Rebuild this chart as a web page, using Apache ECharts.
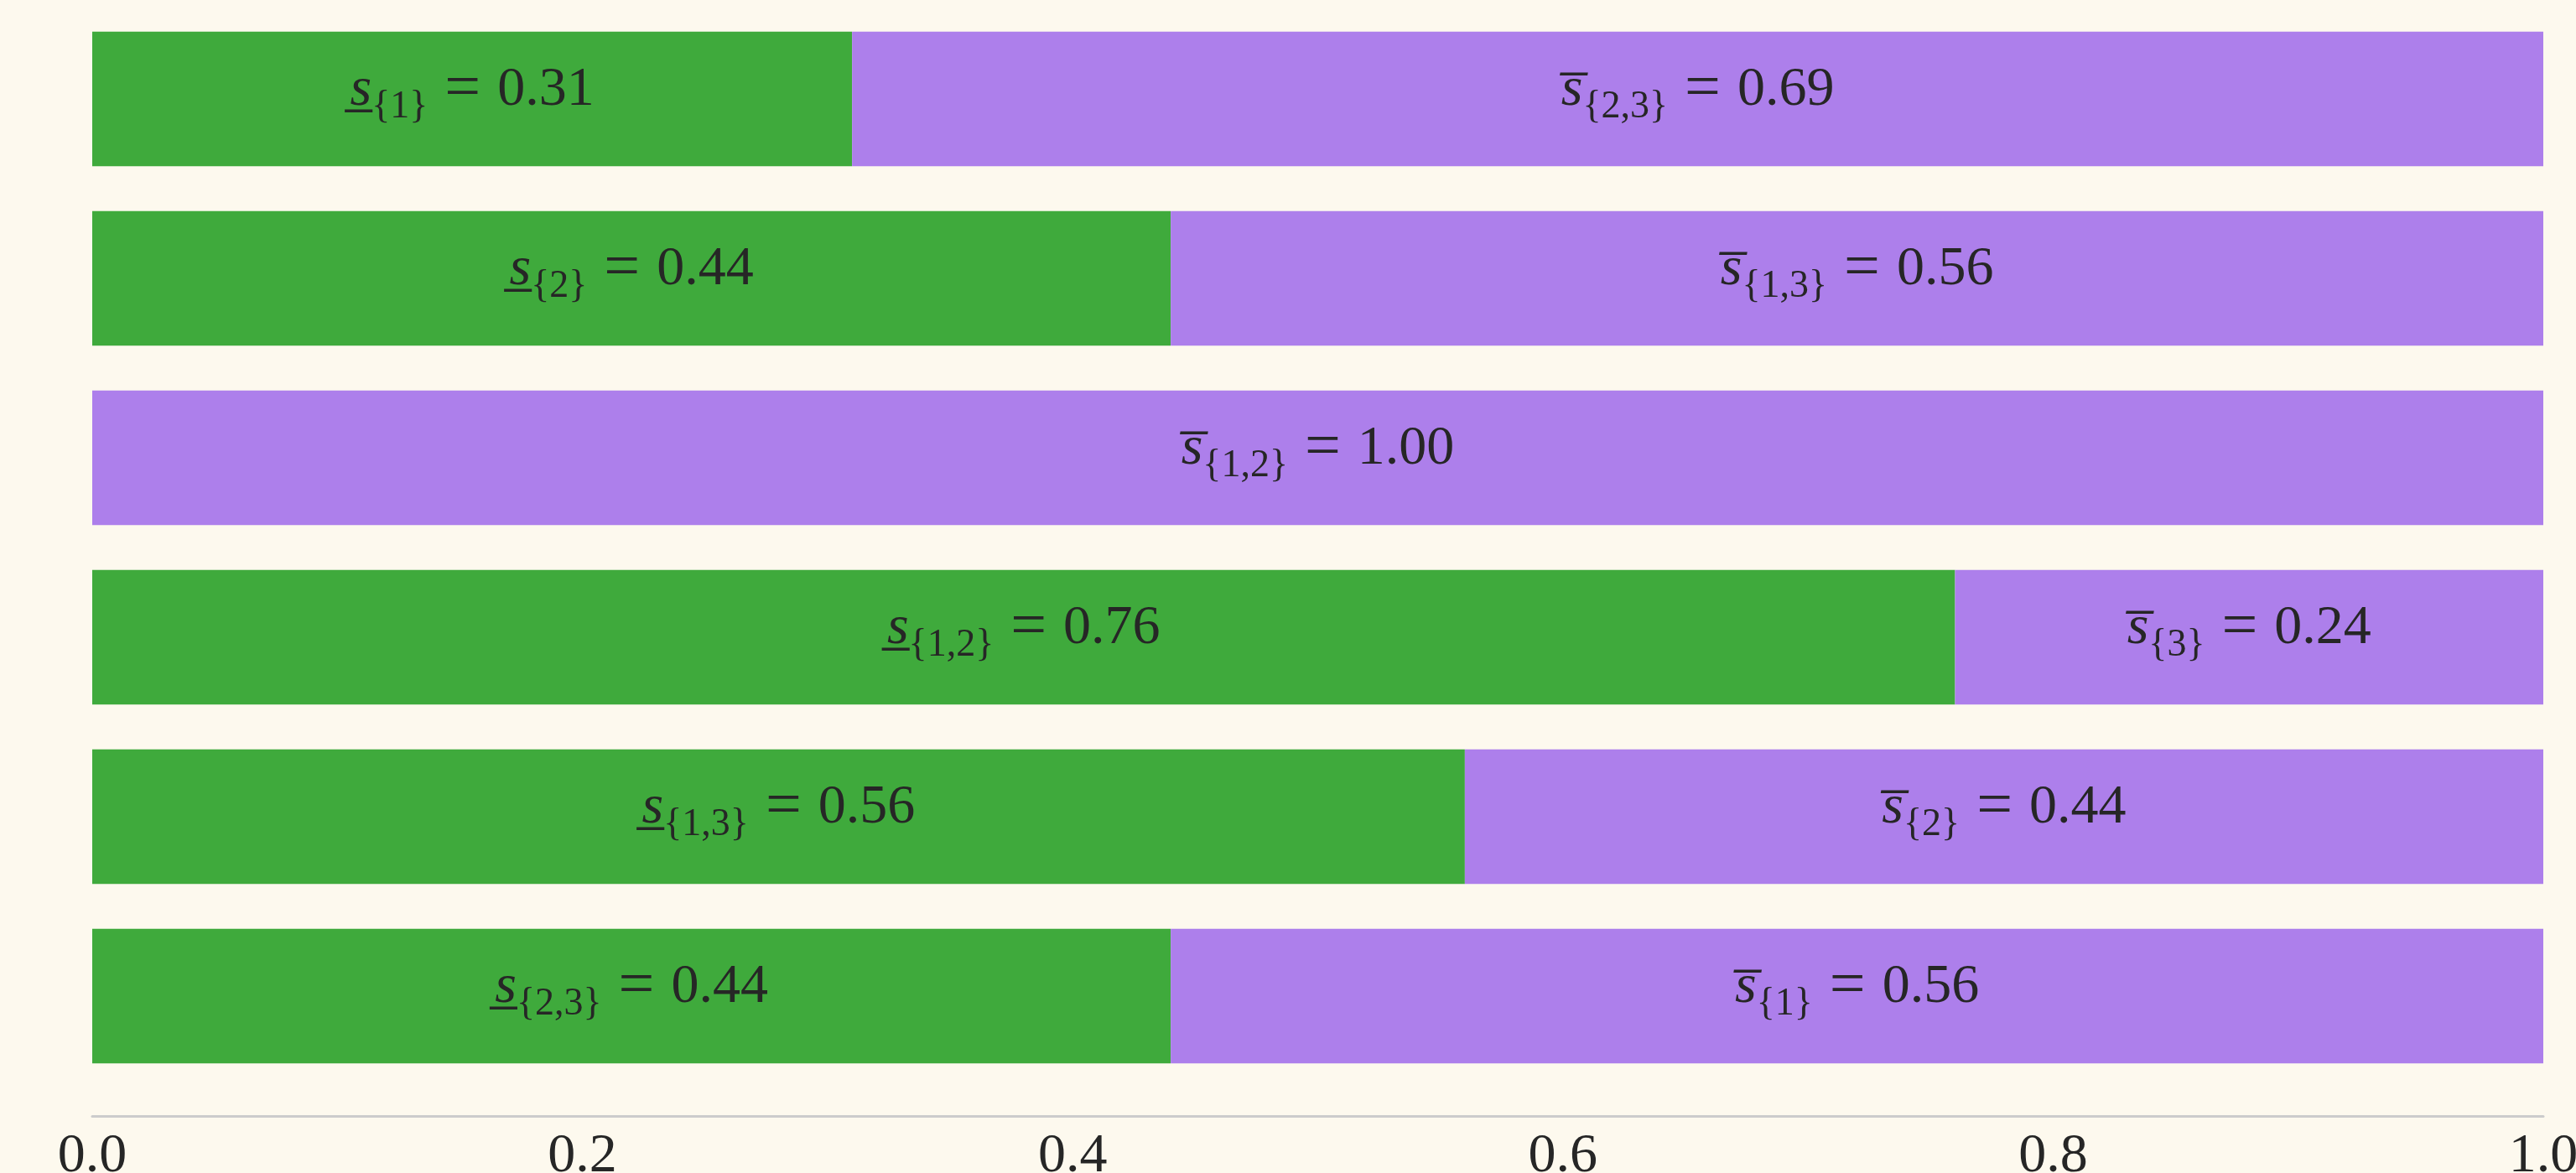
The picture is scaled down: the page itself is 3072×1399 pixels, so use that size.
<!DOCTYPE html>
<html>
<head>
<meta charset="utf-8">
<script src="https://cdn.jsdelivr.net/npm/echarts@6/dist/echarts.min.js"></script>
<style>
  html, body { margin: 0; padding: 0; background: #FDF9EE; }
  #chart { width: 3072px; height: 1399px; }
</style>
</head>
<body>
<div id="chart"></div>
<script>
// Coalitions, top to bottom
const coalitions = ['{1}', '{2}', '{3}', '{1,2}', '{1,3}', '{2,3}'];
// Complement of each coalition (subscript of the upper share label)
const complements = ['{2,3}', '{1,3}', '{1,2}', '{3}', '{2}', '{1}'];
// Lower share of each coalition and upper share of its complement
const lowerValues = [0.31, 0.44, 0.00, 0.76, 0.56, 0.44];
const upperValues = [0.69, 0.56, 1.00, 0.24, 0.44, 0.56];
const xTicks = [0.0, 0.2, 0.4, 0.6, 0.8, 1.0];

const GREEN = '#3FAA3C';
const PURPLE = '#AD7FEB';
const INK = '#262626';
const FONT = '"Liberation Serif", "DejaVu Serif", serif';

// Main-size tokens sit higher (bottom padding) so subscripts hang below them.
const rich = {
  sym: { fontFamily: FONT, fontSize: 66, fontStyle: 'italic', color: INK, lineHeight: 80, padding: [0, 0, 40, 0] },
  sub: { fontFamily: FONT, fontSize: 46, color: INK, lineHeight: 46 },
  eq:  { fontFamily: FONT, fontSize: 76, color: INK, lineHeight: 80, padding: [0, 20, 40, 20] },
  num: { fontFamily: FONT, fontSize: 66, color: INK, lineHeight: 80, padding: [0, 0, 40, 0] }
};

// A rich token cannot contain '}', so the closing brace is left as plain
// text, which takes the label's own (subscript-sized) style.
function mathLabel(mark, set, value) {
  return '{sym|s' + mark + '}{sub|' + set.slice(0, -1) + '}}{eq|=}{num|' + value.toFixed(2) + '}';
}

const baseLabel = {
  show: true,
  position: 'inside',
  offset: [0, 10],
  fontFamily: FONT,
  fontSize: 46,
  lineHeight: 46,
  color: INK,
  rich: rich
};

const chart = echarts.init(document.getElementById('chart'), null, { renderer: 'canvas' });
chart.setOption({
  backgroundColor: '#FDF9EE',
  animation: false,
  grid: { left: 110, right: 39, top: 11, bottom: 104, containLabel: false, outerBoundsMode: 'none' },
  xAxis: {
    type: 'value',
    min: 0,
    max: 1,
    interval: 0.2,
    offset: 36,
    axisLine: { show: true, lineStyle: { color: '#CCCCCC', width: 3 } },
    axisTick: { show: false },
    splitLine: { show: false },
    axisLabel: {
      margin: 16,
      fontFamily: FONT,
      fontSize: 66,
      color: INK,
      formatter: v => v.toFixed(1)
    }
  },
  yAxis: {
    type: 'category',
    inverse: true,
    data: coalitions,
    axisLine: { show: false },
    axisTick: { show: false },
    axisLabel: { show: false },
    splitLine: { show: false }
  },
  series: [
    {
      name: 'lower',
      type: 'bar',
      stack: 'share',
      barWidth: '75%',
      itemStyle: { color: GREEN },
      data: lowerValues,
      label: Object.assign({}, baseLabel, {
        formatter: p => lowerValues[p.dataIndex] > 0
          ? mathLabel('\u0332', coalitions[p.dataIndex], lowerValues[p.dataIndex]) : ''
      })
    },
    {
      name: 'upper',
      type: 'bar',
      stack: 'share',
      barWidth: '75%',
      itemStyle: { color: PURPLE },
      data: upperValues,
      label: Object.assign({}, baseLabel, {
        formatter: p => mathLabel('\u0305', complements[p.dataIndex], upperValues[p.dataIndex])
      })
    }
  ]
});
</script>
</body>
</html>
